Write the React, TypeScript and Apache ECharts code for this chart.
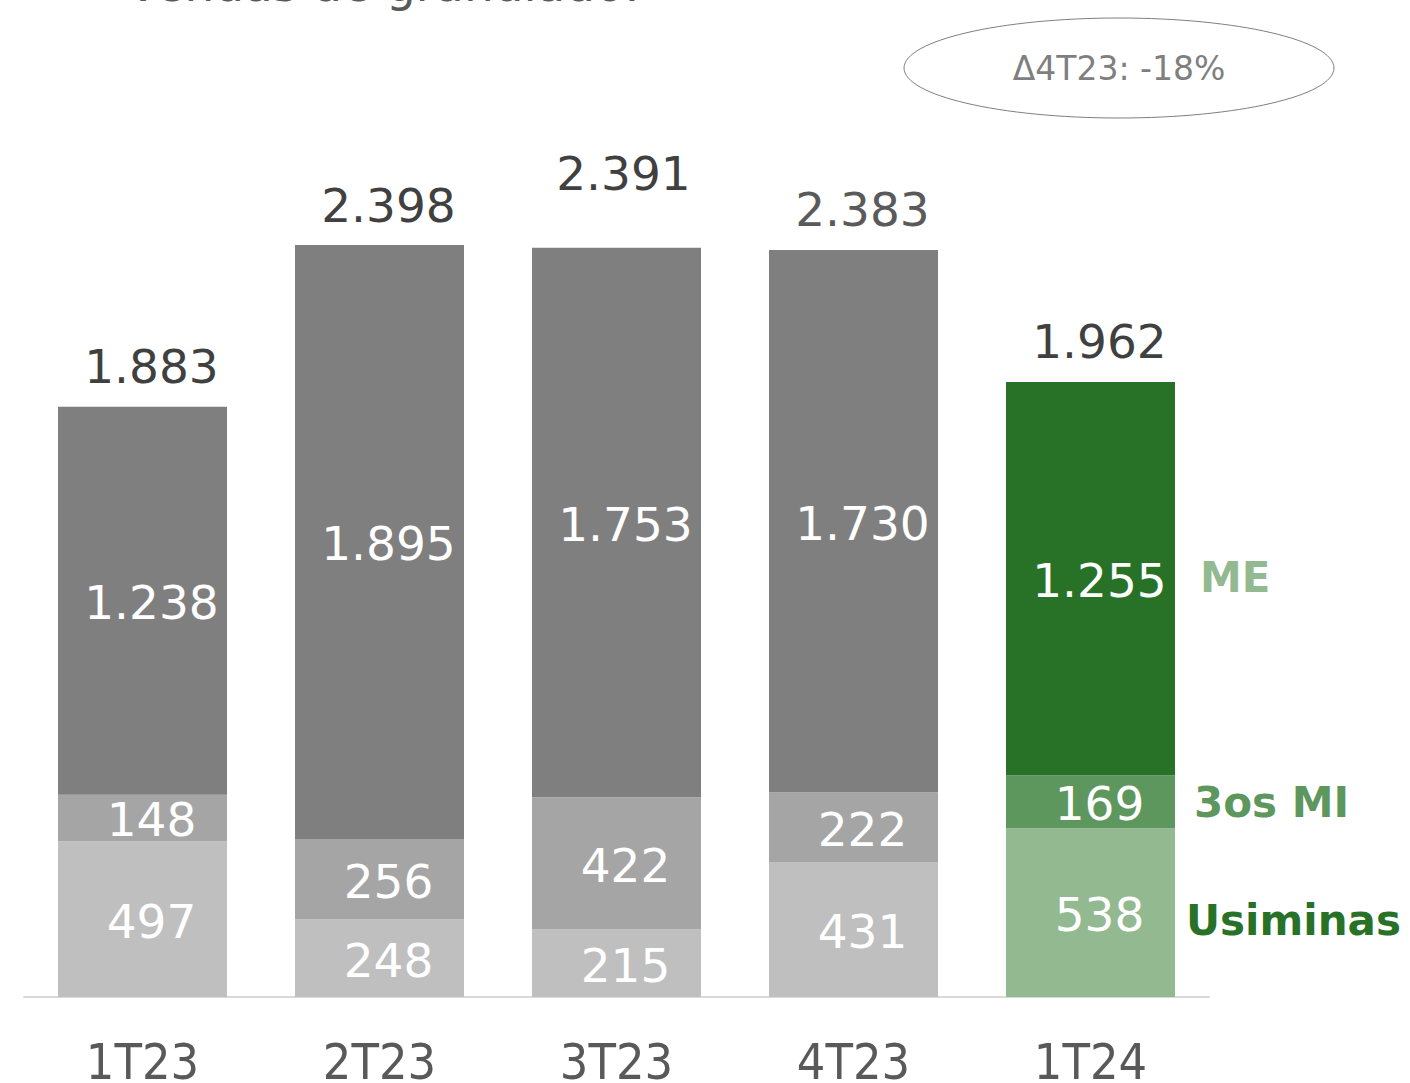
import React, { useEffect, useRef } from "react";
import * as echarts from "echarts";

const categories = ["1T23", "2T23", "3T23", "4T23", "1T24"];
const usiminas = [497, 248, 215, 431, 538];
const terceirosMI = [148, 256, 422, 222, 169];
const me = [1238, 1895, 1753, 1730, 1255];
const totals = [1883, 2398, 2391, 2383, 1962];
const seriesNames = ["Usiminas", "3os MI", "ME"];
const title = "Vendas de granulado:";
const deltaText = "Δ4T23: -18%";

const fmt = (v: number) => v.toLocaleString("de-DE");

const greyColors = ["#BFBFBF", "#A5A5A5", "#7F7F7F"];
const greenColors = ["#93B991", "#5E975E", "#287228"];

export default function App() {
  const ref = useRef<HTMLDivElement>(null);
  useEffect(() => {
    document.body.style.margin = "0";
    const chart = echarts.init(ref.current!, undefined, { renderer: "svg" });
    const font = "DejaVu Sans";
    const stackData = [usiminas, terceirosMI, me];
    const stackSeries = stackData.map((arr, si) => ({
      name: seriesNames[si],
      type: "bar",
      stack: "vol",
      barWidth: 169,
      barGap: "-100%",
      itemStyle: { color: greyColors[si] },
      label: {
        show: true,
        position: "inside",
        offset: [9, 2],
        color: "#FFFFFF",
        fontSize: 47,
        fontFamily: font,
        formatter: (p: any) => fmt(p.value),
      },
      data: arr.map((v, i) =>
        i === categories.length - 1
          ? { value: v, itemStyle: { color: greenColors[si] } }
          : v
      ),
    }));
    const totalSeries = {
      name: "Total",
      type: "bar",
      barWidth: 169,
      barGap: "-100%",
      z: 1,
      itemStyle: { color: "rgba(0,0,0,0)" },
      label: {
        show: true,
        position: "top",
        distance: 16,
        offset: [9, 0],
        color: "#404040",
        fontSize: 47,
        lineHeight: 48,
        fontFamily: font,
        formatter: (p: any) => fmt(p.value),
      },
      data: totals.map((v, i) => {
        if (i === 2) return { value: v, label: { offset: [7, -34] } };
        if (i === 3) return { value: v, label: { color: "#5A5A5A" } };
        return v;
      }),
    };
    chart.setOption({
      animation: false,
      grid: {
        left: 24,
        right: 201,
        top: 56.5,
        bottom: 86,
        containLabel: false,
        outerBoundsMode: "none",
      },
      xAxis: {
        type: "category",
        data: categories,
        axisLine: { lineStyle: { color: "#D9D9D9", width: 2 } },
        axisTick: { show: false },
        axisLabel: {
          color: "#595959",
          fontSize: 50,
          lineHeight: 50,
          margin: 40,
          fontFamily: '"DejaVu Sans Condensed", "DejaVu Sans"',
        },
      },
      yAxis: {
        type: "value",
        min: 0,
        max: 3000,
        show: false,
        splitLine: { show: false },
      },
      series: [...stackSeries, totalSeries],
      graphic: [
        {
          type: "text",
          left: 127,
          top: -39,
          style: {
            text: title,
            fontSize: 47,
            fontFamily: font,
            fill: "#595959",
          },
        },
        {
          type: "ellipse",
          shape: { cx: 1119, cy: 68, rx: 215, ry: 50 },
          style: { fill: "none", stroke: "#7F7F7F", lineWidth: 1 },
        },
        {
          type: "text",
          x: 1119,
          y: 68,
          style: {
            text: deltaText,
            fontSize: 33,
            fontFamily: font,
            fill: "#7F7F7F",
            align: "center",
            verticalAlign: "middle",
          },
        },
        {
          type: "text",
          x: 1200,
          y: 577,
          style: {
            text: seriesNames[2],
            fontSize: 42,
            fontWeight: "bold",
            fontFamily: font,
            fill: greenColors[0],
            verticalAlign: "middle",
          },
        },
        {
          type: "text",
          x: 1194,
          y: 802,
          style: {
            text: seriesNames[1],
            fontSize: 42,
            fontWeight: "bold",
            fontFamily: font,
            fill: greenColors[1],
            verticalAlign: "middle",
          },
        },
        {
          type: "text",
          x: 1186,
          y: 920,
          style: {
            text: seriesNames[0],
            fontSize: 42,
            fontWeight: "bold",
            fontFamily: font,
            fill: greenColors[2],
            verticalAlign: "middle",
          },
        },
      ],
    });
    return () => chart.dispose();
  }, []);
  return <div ref={ref} style={{ width: 1410, height: 1083 }} />;
}
